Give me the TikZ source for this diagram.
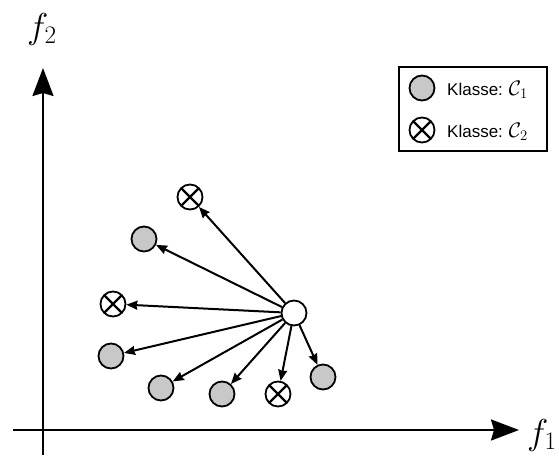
\RequirePackage{fix-cm}
\documentclass[tikz,border=0pt]{standalone}
\usepackage{fontspec}
\newfontfamily\legendfont{Liberation Sans}
\usetikzlibrary{arrows.meta}
\definecolor{classgray}{RGB}{200,200,200}
\begin{document}
\begin{tikzpicture}[x=1pt,y=-1pt,
  sample/.style={circle, draw, line width=1.8pt, minimum size=25pt, inner sep=0pt},
  classA/.style={sample, fill=classgray},
  classB/.style={sample, fill=white,
    path picture={\draw[line width=2.2pt]
      (path picture bounding box.north west) -- (path picture bounding box.south east)
      (path picture bounding box.south west) -- (path picture bounding box.north east);}},
  query/.style={sample, fill=white},
  link/.style={line width=2pt, -{Stealth[length=11pt,width=9pt,inset=1pt]}},
  axis/.style={line width=2.2pt, -{Stealth[length=28pt,width=21pt,inset=3pt]}},
  axislabel/.style={font=\fontsize{36}{42}\selectfont, inner sep=0pt, anchor=base west},
  keytext/.style={font=\legendfont\fontsize{17}{20}\selectfont, inner sep=0pt, anchor=base west}
]
\useasboundingbox (0,0) rectangle (559,455);

% axes
\coordinate (xfrom) at (13,430);
\coordinate (xto) at (519,430);
\coordinate (yfrom) at (43,455);
\coordinate (yto) at (43,68);
\draw[axis] (xfrom) -- (xto);
\draw[axis] (yfrom) -- (yto);
\node[axislabel] (lx) at (527,444) {$f_1$};
\node[axislabel] (ly) at (27,38) {$f_2$};

% samples
\node[query]  (q)  at (294,313) {};
\node[classB] (b1) at (190,197) {};
\node[classA] (a1) at (144,239) {};
\node[classB] (b2) at (113,304) {};
\node[classA] (a2) at (111,356) {};
\node[classA] (a3) at (161,388) {};
\node[classA] (a4) at (222,394) {};
\node[classB] (b3) at (278,394) {};
\node[classA] (a5) at (323,377) {};

% neighbour links
\foreach \t in {b1,a1,b2,a2,a3,a4,b3,a5}
  \draw[link] (q) -- (\t);

% legend
\node[draw, line width=1.4pt, minimum width=148pt, minimum height=84pt, inner sep=0pt] (legend) at (473,109) {};
\node[classA] (keyA) at (422,88) {};
\node[classB] (keyB) at (422,130) {};
\node[keytext] (textA) at (447,95) {Klasse:\hspace{6pt}{\fontsize{21}{24}\selectfont$\mathcal{C}_1$}};
\node[keytext] (textB) at (447,137) {Klasse:\hspace{6pt}{\fontsize{21}{24}\selectfont$\mathcal{C}_2$}};
\end{tikzpicture}
\end{document}
